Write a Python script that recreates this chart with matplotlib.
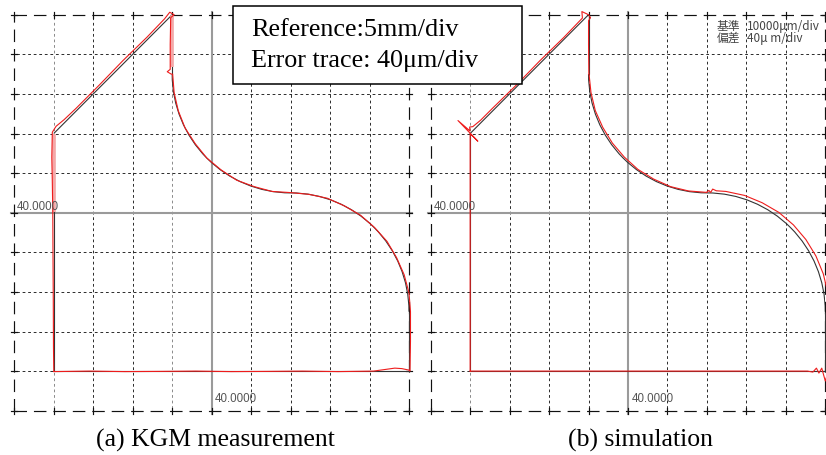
import numpy as np
import matplotlib
matplotlib.use("Agg")
import matplotlib.pyplot as plt
from matplotlib.patches import Arc, Rectangle

plt.rcParams['lines.scale_dashes'] = False

W, H, DPI = 826, 456, 100

# ---------------- data ----------------
grid_mm = [15, 20, 25, 30, 35, 40, 45, 50, 55, 60, 65]   # 5 mm / div
center_mm = 40
center_label = "40.0000"
ref_mm_per_div = 5.0      # Reference: 5 mm/div
err_um_per_div = 40.0     # Error trace: 40 um/div

# reference contour (mm), traversed counter-clockwise
seg_bottom = ('line', (20, 20), (65, 20))
seg_right = ('line', (65, 20), (65, 27.5))
seg_arcA = ('arc', (50, 27.5), 15, 0, 90)
seg_arcB = ('arc', (50, 57.5), 15, 270, 180)
seg_step = ('line', (35, 57.5), (35, 65))
seg_diag = ('line', (35, 65), (20, 50))
seg_left = ('line', (20, 50), (20, 20))
path_order = ['bottom', 'right', 'arcA', 'arcB', 'step', 'diag', 'left']

# ---- (a) KGM measurement: error (um, outward +) at positions t along each segment
kgm_t_bottom = [0, 0.1, 0.2, 0.3, 0.4, 0.5, 0.6, 0.7, 0.8, 0.9, 0.94, 0.96, 0.98, 1.0]
kgm_e_bottom = [0.5, 0, 0.5, 0.3, 0, 0.5, 0.3, 0, 0.5, 0, -2, -3, -2.5, -1]
kgm_t_right = [0, 0.5, 1.0]
kgm_e_right = [1, 1.5, 1.5]
kgm_t_arcA = [0, 0.1, 0.2, 0.3, 0.4, 0.5, 0.6, 0.7, 0.8, 0.9, 1.0]
kgm_e_arcA = [1.5, 1.5, 1, 0.5, 0.8, 0.3, 0.5, 0, 0.5, 0, 0.3]
kgm_t_arcB = [0, 0.1, 0.2, 0.3, 0.4, 0.5, 0.6, 0.7, 0.8, 0.9, 1.0]
kgm_e_arcB = [0.3, 0, 0.5, -0.3, 0.3, 0, 0.5, 0, 0.3, 0.5, 0.5]
kgm_t_step = [0, 0.04, 0.08, 0.5, 0.95, 1.0]
kgm_e_step = [-1, -5, -2, -2, -1.5, 2]
kgm_t_diag = [0, 0.05, 0.2, 0.4, 0.6, 0.8, 0.9, 0.96, 1.0]
kgm_e_diag = [3.5, 2.5, 2, 2.5, 2, 2, 2.5, 3.5, 2]
kgm_t_left = [0, 0.1, 0.2, 0.33, 0.5, 0.7, 0.9, 1.0]
kgm_e_left = [1.5, 2, 1.5, 1, 0.8, 0.5, 0.3, 0]

# ---- (b) simulation
sim_t_bottom = [0, 0.2, 0.4, 0.6, 0.8, 0.95, 0.965, 0.975, 0.982, 0.99, 1.0]
sim_e_bottom = [0, 0, 0, 0, 0, 0, 1, -3, 2, -3, 10]
sim_t_right = [0, 0.5, 1.0]
sim_e_right = [3, 3, 3.5]
sim_t_arcA = [0, 0.1, 0.2, 0.3, 0.4, 0.5, 0.6, 0.7, 0.8, 0.9, 0.95, 0.97, 0.98, 0.99, 1.0]
sim_e_arcA = [3.5, 4, 4, 4, 4, 4, 4, 3.5, 3.5, 3, 2.5, 4, 0.5, 2.5, 0.8]
sim_t_arcB = [0, 0.1, 0.2, 0.3, 0.4, 0.5, 0.6, 0.7, 0.8, 0.9, 1.0]
sim_e_arcB = [0.5, 0.5, 0.5, 1, 1, 1.5, 1.5, 1.5, 1, 1, 0.5]
sim_t_step = [0, 0.5, 0.9, 0.95, 1.0]
sim_e_step = [0.3, 0, 0, 2, 0]
sim_t_diag = [0, 0.015, 0.04, 0.2, 0.4, 0.6, 0.8, 0.9, 0.93, 0.96, 0.975, 0.99, 0.997, 1.0, 1.0]
sim_e_diag = [0, 7, 2, 1.5, 2, 1.5, 2, 2, 2.5, 3, 5, 2, 18, -11, 0]
sim_t_left = [0, 1.0]
sim_e_left = [0, 0]

kgm_light_vgrid = [20, 35]
sim_light_vgrid = [20]

caption_a = "(a) KGM measurement"
caption_b = "(b) simulation"
box_line1 = "Reference:5mm/div"
box_line2 = "Error trace: 40\u03bcm/div"
jp_labels = ["基準", "偏差"]
jp_values = ["10000\u03bcm/div", "40\u03bc m/div"]

# ---------------- helpers ----------------
segments = {'bottom': seg_bottom, 'right': seg_right, 'arcA': seg_arcA,
            'arcB': seg_arcB, 'step': seg_step, 'diag': seg_diag, 'left': seg_left}
scale = ref_mm_per_div / err_um_per_div   # mm shown per um of error


def seg_point(seg, t, e):
    if seg[0] == 'line':
        (x0, y0), (x1, y1) = seg[1], seg[2]
        dx, dy = x1 - x0, y1 - y0
        L = np.hypot(dx, dy)
        nx, ny = dy / L, -dx / L
        return x0 + t * dx + nx * e * scale, y0 + t * dy + ny * e * scale
    (cx, cy), r, a0, a1 = seg[1], seg[2], seg[3], seg[4]
    th = np.radians(a0 + t * (a1 - a0))
    s = 1 if a1 > a0 else -1
    nx, ny = s * np.cos(th), s * np.sin(th)
    return cx + r * np.cos(th) + nx * e * scale, cy + r * np.sin(th) + ny * e * scale


def trace(tdict, edict):
    xs, ys = [], []
    for name in path_order:
        for t, e in zip(tdict[name], edict[name]):
            x, y = seg_point(segments[name], t, e)
            xs.append(x)
            ys.append(y)
    return xs, ys


def px_axes(fig, left, top, right, bottom):
    return fig.add_axes([left / W, (H - bottom) / H, (right - left) / W, (bottom - top) / H])


def draw_panel(ax, tdict, edict, light_v, halos):
    lo, hi = grid_mm[0], grid_mm[-1]
    ext = 0.4
    ax.set_xlim(lo, hi)
    ax.set_ylim(lo, hi)
    ax.axis('off')
    inner = [g for g in grid_mm[1:-1] if g != center_mm]
    dot = (0, (2.0, 2.0))
    for g in inner:
        cv = '#8a8a8a' if g in light_v else '#2a2a2a'
        ax.plot([g, g], [lo - ext, hi + ext], color=cv, lw=0.7,
                ls=dot, clip_on=False, zorder=1)
        ax.plot([lo - ext, hi + ext], [g, g], color='#2a2a2a', lw=0.7,
                ls=dot, clip_on=False, zorder=1)
    ax.plot([center_mm, center_mm], [lo - ext, hi + ext], color='#9a9a9a', lw=1.5,
            clip_on=False, zorder=2)
    ax.plot([lo - ext, hi + ext], [center_mm, center_mm], color='#9a9a9a', lw=1.5,
            clip_on=False, zorder=2)
    dash = (0, (9, 5))
    ax.plot([lo, hi], [lo, lo], color='#111111', lw=0.85, ls=dash, clip_on=False, zorder=2)
    ax.plot([lo, hi], [hi, hi], color='#111111', lw=0.85, ls=dash, clip_on=False, zorder=2)
    ax.plot([lo, lo], [lo, hi], color='#111111', lw=0.85, ls=dash, clip_on=False, zorder=2)
    ax.plot([hi, hi], [lo, hi], color='#111111', lw=0.85, ls=dash, clip_on=False, zorder=2)
    for g in grid_mm:
        for b in (lo, hi):
            ax.plot([g, g], [b - ext, b + ext], color='#111111', lw=0.85, clip_on=False, zorder=2)
            ax.plot([b - ext, b + ext], [g, g], color='#111111', lw=0.85, clip_on=False, zorder=2)
    # reference contour
    for name in path_order:
        seg = segments[name]
        if seg[0] == 'line':
            ax.plot([seg[1][0], seg[2][0]], [seg[1][1], seg[2][1]], color='#333333',
                    lw=0.8, zorder=3, clip_on=False, solid_capstyle='butt')
        else:
            (cx, cy), r, a0, a1 = seg[1], seg[2], seg[3], seg[4]
            ax.add_patch(Arc((cx, cy), 2 * r, 2 * r, theta1=min(a0, a1), theta2=max(a0, a1),
                             color='#333333', lw=0.8, zorder=3))
    for name, t0, t1 in halos:
        p0 = seg_point(segments[name], t0, 0)
        p1 = seg_point(segments[name], t1, 0)
        ax.plot([p0[0], p1[0]], [p0[1], p1[1]], color='#f4a8a8', lw=2.6, zorder=3.5,
                solid_capstyle='butt')
    xs, ys = trace(tdict, edict)
    ax.plot(xs, ys, color='#ee1c1c', lw=0.8, zorder=4, clip_on=False)
    ax.text(lo + 0.35, center_mm + 0.1, center_label, fontsize=8.3, family='Liberation Sans',
            color='#555555', ha='left', va='bottom', zorder=5)
    ax.text(center_mm + 0.45, lo + 0.85, center_label, fontsize=8.3, family='Liberation Sans',
            color='#555555', ha='left', va='bottom', zorder=5)


fig = plt.figure(figsize=(W / DPI, H / DPI), dpi=DPI)
fig.patch.set_facecolor('white')

kgm_t = {'bottom': kgm_t_bottom, 'right': kgm_t_right, 'arcA': kgm_t_arcA, 'arcB': kgm_t_arcB,
         'step': kgm_t_step, 'diag': kgm_t_diag, 'left': kgm_t_left}
kgm_e = {'bottom': kgm_e_bottom, 'right': kgm_e_right, 'arcA': kgm_e_arcA, 'arcB': kgm_e_arcB,
         'step': kgm_e_step, 'diag': kgm_e_diag, 'left': kgm_e_left}
sim_t = {'bottom': sim_t_bottom, 'right': sim_t_right, 'arcA': sim_t_arcA, 'arcB': sim_t_arcB,
         'step': sim_t_step, 'diag': sim_t_diag, 'left': sim_t_left}
sim_e = {'bottom': sim_e_bottom, 'right': sim_e_right, 'arcA': sim_e_arcA, 'arcB': sim_e_arcB,
         'step': sim_e_step, 'diag': sim_e_diag, 'left': sim_e_left}

ax1 = px_axes(fig, 14.3, 15.7, 409.0, 411.7)
draw_panel(ax1, kgm_t, kgm_e, kgm_light_vgrid, [('left', 0.0, 0.33), ('step', 0.12, 1.0)])
ax2 = px_axes(fig, 430.7, 15.7, 825.3, 411.7)
draw_panel(ax2, sim_t, sim_e, sim_light_vgrid, [])

# overlay in pixel coordinates for box, captions and notes
ov = fig.add_axes([0, 0, 1, 1], zorder=10)
ov.set_xlim(0, W)
ov.set_ylim(H, 0)
ov.axis('off')
ov.patch.set_alpha(0)
ov.add_patch(Rectangle((233.0, 7.3), 288.7, 78.0, facecolor='white', edgecolor='black', lw=1.1))
ov.text(250.7, 35.7, box_line1, fontsize=18.8, family='Liberation Serif', va='baseline', ha='left')
ov.text(250.7, 66.7, box_line2, fontsize=18.8, family='Liberation Serif', va='baseline', ha='left')
ov.text(215.0, 446.7, caption_a, fontsize=18.5, family='Liberation Serif', va='baseline', ha='center')
ov.text(640.0, 446.7, caption_b, fontsize=18.5, family='Liberation Serif', va='baseline', ha='center')
for i, (lab, val) in enumerate(zip(jp_labels, jp_values)):
    yy = 26.7 + i * 11.6
    ov.text(716.7, yy, lab, fontsize=8.5, family=['Noto Sans CJK JP', 'DejaVu Sans'],
            color='#444444', va='center', ha='left')
    ov.text(746.7, yy, val, fontsize=8.5, family=['Noto Sans CJK JP', 'DejaVu Sans'],
            color='#444444', va='center', ha='left')

fig.savefig('out.png', dpi=DPI, facecolor='white')
